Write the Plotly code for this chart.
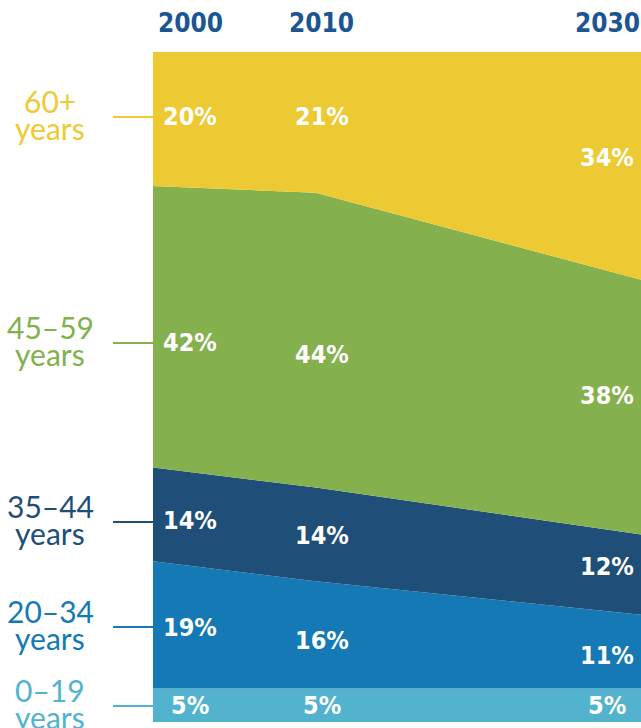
import plotly.graph_objects as go

# ---- data ----
years = [2000, 2010, 2030]
groups = ["0\u201319", "20\u201334", "35\u201344", "45\u201359", "60+"]
share_0_19 = [5, 5, 5]
share_20_34 = [19, 16, 11]
share_35_44 = [14, 14, 12]
share_45_59 = [42, 44, 38]
share_60_plus = [20, 21, 34]
year_labels = ["2000", "2010", "2030"]

series = [share_0_19, share_20_34, share_35_44, share_45_59, share_60_plus]

# ---- style ----
colors = ["#53B2CE", "#1479B5", "#1F4E78", "#84B04E", "#EDCA33"]
year_color = "#1B5592"
W, H = 641, 728
ML, MR, MT, MB = 153, 0, 52, 6
PH = H - MT - MB
cond = "DejaVu Sans Condensed, Liberation Sans Narrow, sans-serif"
humanist = "Lato, Open Sans, sans-serif"

# label positions in pixels (centres), per column, bottom->top group order
label_px_y = [
    [705, 627, 520, 342, 117],
    [705, 640, 535, 354, 117],
    [705, 655, 566, 395, 157],
]
col_shift = [37, 6, -34]
left_px_y = [706, 627, 522, 343, 117]


def py(px):
    return (H - MB - px) / PH


fig = go.Figure()
for g, vals, c in zip(groups, series, colors):
    fig.add_trace(go.Scatter(
        x=years, y=vals, name=g, stackgroup="one", mode="none",
        fillcolor=c, hoverinfo="x+y+name",
    ))

ann = []
# year headers
for yr, lab, sh in zip(years, year_labels, col_shift):
    ann.append(dict(x=yr, xref="x", y=(H - 23 - MB) / PH, yref="paper",
                    text=lab, showarrow=False, xshift=sh,
                    xanchor="center", yanchor="middle",
                    font=dict(family=cond, size=26, color=year_color, weight="bold")))
# percentage labels
for ci, yr in enumerate(years):
    for gi, vals in enumerate(series):
        ann.append(dict(x=yr, xref="x", y=py(label_px_y[ci][gi]), yref="paper",
                        text=f"{vals[ci]}%", showarrow=False, xshift=col_shift[ci],
                        xanchor="center", yanchor="middle",
                        font=dict(family=cond, size=25, color="white", weight="bold")))
# left group labels
shapes = []
for gi, g in enumerate(groups):
    cy = left_px_y[gi]
    ann.append(dict(x=(50 - ML) / (W - ML - MR), xref="paper", y=py(cy - 16), yref="paper",
                    text=g, showarrow=False, xanchor="center", yanchor="middle",
                    font=dict(family=humanist, size=30, color=colors[gi])))
    ann.append(dict(x=(50 - ML) / (W - ML - MR), xref="paper", y=py(cy + 11), yref="paper",
                    text="years", showarrow=False, xanchor="center", yanchor="middle",
                    font=dict(family=humanist, size=30, color=colors[gi])))
    shapes.append(dict(type="line", xref="paper", yref="paper",
                       x0=(113 - ML) / (W - ML - MR), x1=0, y0=py(cy), y1=py(cy),
                       line=dict(color=colors[gi], width=2)))

fig.update_layout(
    width=W, height=H,
    margin=dict(l=ML, r=MR, t=MT, b=MB),
    paper_bgcolor="white", plot_bgcolor="white",
    showlegend=False,
    xaxis=dict(range=[2000, 2030], visible=False, fixedrange=True),
    yaxis=dict(range=[0, 100], visible=False, fixedrange=True),
    annotations=ann, shapes=shapes,
)

fig.write_html("out.html")
